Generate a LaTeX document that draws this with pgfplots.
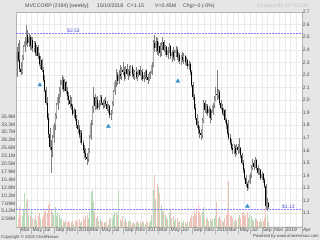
\documentclass[border=0pt]{standalone}
\usepackage{pgfplots}
\pgfplotsset{compat=1.18}
\usepackage{pgfplotstable}
\usepackage{fontspec}
\setmainfont{Liberation Sans}
\definecolor{bgc}{HTML}{E6E6E6}
\definecolor{gridc}{HTML}{EBEBEB}
\definecolor{framec}{HTML}{B4B4B4}
\definecolor{volup}{HTML}{B5DAB5}
\definecolor{voldn}{HTML}{F0C2BA}
\definecolor{upc}{HTML}{A8A8A8}
\definecolor{wickc}{HTML}{808080}
\definecolor{refc}{HTML}{8080FF}
\definecolor{reft}{HTML}{4848D0}
\definecolor{bellc}{HTML}{3A90CC}
\definecolor{txtc}{HTML}{4A4A4A}
\definecolor{lightc}{HTML}{C4C4C4}
\newcommand\fs{\fontsize{5bp}{6bp}\selectfont}
\newcommand\ft{\fontsize{5.2bp}{6bp}\selectfont}
\newcommand\ff{\fontsize{4.3bp}{5bp}\selectfont}
\pgfplotstableread{
o h l c v
2.30 2.42 2.18 2.38 5.5
2.38 2.45 2.30 2.32 3.0
2.32 2.48 2.22 2.25 6.5
2.25 2.30 2.20 2.22 4.0
2.22 2.36 2.21 2.34 3.5
2.34 2.44 2.32 2.42 6.0
2.42 2.50 2.38 2.47 11.0
2.47 2.60 2.44 2.52 8.5
2.52 2.56 2.42 2.45 9.0
2.45 2.53 2.42 2.50 4.0
2.50 2.52 2.40 2.43 3.5
2.43 2.50 2.40 2.48 5.5
2.48 2.50 2.38 2.41 3.0
2.41 2.47 2.38 2.45 2.5
2.45 2.47 2.35 2.37 4.0
2.37 2.44 2.35 2.42 2.0
2.42 2.44 2.33 2.35 3.5
2.35 2.37 2.27 2.29 4.5
2.29 2.35 2.25 2.32 2.5
2.32 2.33 2.22 2.24 3.0
2.24 2.26 2.14 2.16 4.0
2.16 2.20 2.06 2.08 5.0
2.08 2.10 1.96 1.98 6.0
1.98 2.02 1.84 1.86 4.5
1.86 1.90 1.70 1.73 7.0
1.73 1.78 1.60 1.63 8.0
1.63 1.68 1.42 1.60 6.0
1.60 1.72 1.55 1.70 5.0
1.70 1.82 1.66 1.80 4.0
1.80 1.90 1.76 1.88 6.5
1.88 1.98 1.85 1.96 3.5
1.96 2.05 1.92 2.02 5.0
2.02 2.10 1.98 2.08 4.0
2.08 2.16 2.02 2.12 2.5
2.12 2.20 2.08 2.16 3.0
2.16 2.18 2.06 2.09 2.0
2.09 2.17 2.07 2.14 1.5
2.14 2.15 2.05 2.07 2.0
2.07 2.10 2.00 2.03 1.5
2.03 2.06 1.96 2.00 1.8
2.00 2.04 1.94 1.97 1.2
1.97 2.02 1.92 1.95 1.5
1.95 1.97 1.87 1.89 2.0
1.89 1.94 1.86 1.92 1.0
1.92 1.93 1.83 1.85 1.8
1.85 1.88 1.78 1.80 2.2
1.80 1.84 1.74 1.77 1.5
1.77 1.80 1.70 1.72 2.5
1.72 1.76 1.66 1.74 1.2
1.74 1.76 1.64 1.66 2.0
1.66 1.68 1.58 1.60 3.0
1.60 1.64 1.54 1.58 2.5
1.58 1.62 1.52 1.55 3.5
1.55 1.58 1.48 1.53 4.0
1.53 1.62 1.51 1.60 3.0
1.60 1.72 1.58 1.70 5.0
1.70 1.84 1.68 1.82 11.5
1.82 1.95 1.80 1.93 12.0
1.93 2.10 1.90 2.02 8.0
2.02 2.05 1.92 1.95 5.0
1.95 2.02 1.93 2.00 3.0
2.00 2.03 1.92 1.94 3.5
1.94 2.00 1.92 1.98 2.0
1.98 2.04 1.95 2.02 2.5
2.02 2.04 1.96 1.98 2.0
1.98 2.00 1.93 1.96 1.5
1.96 2.01 1.94 1.99 1.5
1.99 2.02 1.95 1.97 1.2
1.97 1.99 1.91 1.93 1.8
1.93 1.97 1.90 1.95 1.0
1.95 1.96 1.86 1.88 2.5
1.88 1.92 1.84 1.90 3.0
1.90 1.99 1.89 1.97 2.5
1.97 2.08 1.95 2.06 4.0
2.06 2.16 2.04 2.14 5.0
2.14 2.25 2.10 2.20 5.0
2.20 2.22 2.12 2.15 4.0
2.15 2.24 2.13 2.21 12.0
2.21 2.28 2.17 2.19 2.5
2.19 2.26 2.16 2.24 2.0
2.24 2.30 2.20 2.22 3.5
2.22 2.26 2.15 2.18 2.0
2.18 2.27 2.17 2.25 2.5
2.25 2.29 2.19 2.21 1.5
2.21 2.25 2.16 2.23 1.8
2.23 2.27 2.18 2.20 1.5
2.20 2.28 2.19 2.26 2.0
2.26 2.28 2.18 2.21 1.2
2.21 2.25 2.17 2.19 1.5
2.19 2.24 2.16 2.22 1.0
2.22 2.26 2.17 2.18 1.5
2.18 2.23 2.15 2.21 2.0
2.21 2.25 2.18 2.24 1.2
2.24 2.27 2.19 2.20 1.5
2.20 2.24 2.16 2.22 1.0
2.22 2.25 2.15 2.17 2.0
2.17 2.22 2.14 2.20 1.5
2.20 2.24 2.17 2.23 1.0
2.23 2.25 2.16 2.18 1.8
2.18 2.21 2.13 2.16 1.5
2.16 2.22 2.15 2.20 1.2
2.20 2.23 2.17 2.21 2.0
2.21 2.30 2.20 2.28 4.0
2.28 2.48 2.26 2.45 12.0
2.45 2.52 2.38 2.41 17.0
2.41 2.50 2.38 2.47 9.0
2.47 2.49 2.36 2.39 14.0
2.39 2.46 2.35 2.43 13.0
2.43 2.45 2.34 2.37 11.0
2.37 2.46 2.35 2.44 7.0
2.44 2.50 2.40 2.46 6.0
2.46 2.48 2.38 2.40 5.0
2.40 2.44 2.36 2.42 4.0
2.42 2.43 2.34 2.36 3.0
2.36 2.42 2.33 2.40 2.5
2.40 2.45 2.37 2.43 4.5
2.43 2.44 2.33 2.35 5.5
2.35 2.40 2.30 2.38 3.0
2.38 2.42 2.32 2.34 3.5
2.34 2.40 2.31 2.37 2.0
2.37 2.43 2.34 2.40 2.5
2.40 2.42 2.32 2.34 3.0
2.34 2.38 2.30 2.36 1.5
2.36 2.37 2.29 2.31 2.0
2.31 2.36 2.28 2.34 1.5
2.34 2.38 2.30 2.32 1.2
2.32 2.37 2.29 2.35 2.0
2.35 2.36 2.28 2.30 1.5
2.30 2.34 2.27 2.32 1.0
2.32 2.33 2.25 2.27 2.0
2.27 2.31 2.24 2.29 1.5
2.29 2.30 2.20 2.22 3.0
2.22 2.24 2.10 2.12 4.0
2.12 2.14 2.00 2.02 3.5
2.02 2.05 1.92 1.94 5.0
1.94 1.97 1.84 1.86 4.0
1.86 1.89 1.78 1.80 6.0
1.80 1.83 1.73 1.76 7.0
1.76 1.79 1.70 1.74 5.0
1.74 1.77 1.68 1.72 4.0
1.72 1.86 1.70 1.84 5.0
1.84 2.00 1.82 1.98 6.5
1.98 2.00 1.90 1.92 3.0
1.92 1.97 1.89 1.95 2.5
1.95 1.97 1.87 1.90 3.0
1.90 1.95 1.86 1.93 2.0
1.93 1.94 1.82 1.86 3.0
1.86 1.92 1.84 1.90 2.0
1.90 1.98 1.88 1.96 2.5
1.96 2.03 1.94 2.01 3.0
2.01 2.10 1.99 2.05 4.0
2.05 2.24 2.00 2.04 8.0
2.04 2.09 2.01 2.06 3.0
2.06 2.08 1.96 1.98 3.5
1.98 2.00 1.92 1.94 2.5
1.94 1.97 1.88 1.90 2.0
1.90 1.94 1.87 1.92 1.5
1.92 1.93 1.82 1.84 3.0
1.84 1.86 1.77 1.80 4.0
1.80 1.82 1.72 1.74 5.0
1.74 1.84 1.68 1.70 15.0
1.70 1.73 1.64 1.66 4.0
1.66 1.69 1.60 1.62 3.5
1.62 1.65 1.57 1.60 3.0
1.60 1.65 1.57 1.62 2.0
1.62 1.64 1.55 1.58 2.5
1.58 1.65 1.56 1.63 2.0
1.63 1.65 1.57 1.60 3.0
1.60 1.70 1.58 1.62 4.0
1.62 1.63 1.54 1.56 3.0
1.56 1.58 1.48 1.50 4.5
1.50 1.52 1.42 1.44 5.0
1.44 1.46 1.36 1.38 3.5
1.38 1.40 1.31 1.33 4.0
1.33 1.35 1.28 1.30 5.0
1.30 1.36 1.29 1.34 3.0
1.34 1.42 1.33 1.40 4.0
1.40 1.48 1.38 1.46 3.5
1.46 1.53 1.44 1.50 2.5
1.50 1.52 1.44 1.47 2.0
1.47 1.55 1.46 1.52 3.0
1.52 1.53 1.44 1.46 2.5
1.46 1.48 1.40 1.42 2.0
1.42 1.46 1.40 1.44 1.5
1.44 1.45 1.36 1.38 2.5
1.38 1.43 1.36 1.41 1.5
1.41 1.42 1.34 1.36 2.0
1.36 1.38 1.30 1.32 3.0
1.32 1.33 1.13 1.16 13.0
1.16 1.22 1.12 1.18 4.0
1.18 1.19 1.13 1.15 1.5
}\price
\begin{document}
\begin{tikzpicture}[x=1bp,y=1bp]
\fill[bgc] (0,0) rectangle (320,240);
\useasboundingbox (0,0) rectangle (320,240);
\pgfplotsset{base/.style={at={(16bp,13bp)}, anchor=south west, scale only axis,
  width=286bp, height=215bp, xmin=1.31, xmax=51},
  candle/.style={only marks, mark=*, mark size=0pt, mark options={draw=none, fill=none},
  error bars/.cd, y dir=both, y explicit, error mark=none}}
% grid layer
\begin{axis}[base, ymin=0.99, ymax=2.70,
  axis background/.style={fill=white},
  xtick={1,...,51}, ytick={1.0,1.1,1.2,1.3,1.4,1.5,1.6,1.7,1.8,1.9,2.0,2.1,2.2,2.3,2.4,2.5,2.6,2.7},
  xticklabels={}, yticklabels={}, grid=major,
  major grid style={gridc, line width=0.4bp},
  tick style={draw=none}, axis line style={framec, line width=0.4bp}]
\end{axis}
% volume layer
\begin{axis}[base, ymin=0, ymax=69.8,
  axis line style={draw=none}, tick style={draw=none}, xtick=\empty,
  ytick={2.5636,5.1272,7.6908,10.2544,12.818,15.3816,17.9452,20.5088,23.0724,25.636,28.1996,30.7632,33.3268,35.8904},
  yticklabels={2.56M,5.12M,7.69M,10.2M,12.8M,15.4M,17.9M,20.5M,23.1M,25.6M,28.2M,30.7M,33.3M,35.9M},
  yticklabel style={font=\fs, text=txtc, inner sep=0.6bp}]
\addplot[ycomb, volup, line width=0.9bp] table[x expr=1.45+0.2301*\coordindex,
  y expr={ifthenelse(\thisrow{c}>=\thisrow{o},\thisrow{v},0)}] {\price};
\addplot[ycomb, voldn, line width=0.9bp] table[x expr=1.45+0.2301*\coordindex,
  y expr={ifthenelse(\thisrow{c}<\thisrow{o},\thisrow{v},0)}] {\price};
\end{axis}
% price layer
\begin{axis}[base, ymin=0.99, ymax=2.70, clip=false,
  axis line style={draw=none}, tick style={draw=none},
  ytick={1.1,1.2,1.3,1.4,1.5,1.6,1.7,1.8,1.9,2.0,2.1,2.2,2.3,2.4,2.5,2.6,2.7},
  yticklabels={1.1,1.2,1.3,1.4,1.5,1.6,1.7,1.8,1.9,2.0,2.1,2.2,2.3,2.4,2.5,2.6,2.7},
  yticklabel pos=right,
  yticklabel style={font=\fs, text=txtc, anchor=west, inner sep=0.6bp},
  xtick={2,4,6,8,10,12,14,16,18,20,22,24,26,28,30,32,34,36,38,40,42,44,46,48,51},
  xticklabels={Mar,May,Jul,Sep,Nov,2016,Mar,May,Jul,Sep,Nov,2017,Mar,May,Jul,Sep,Nov,2018,Mar,May,Jul,Sep,Nov,2019,Apr},
  xticklabel style={font=\fs, text=txtc, anchor=north west, inner sep=0.9bp}]
\pgfplotsinvokeforeach{2,4,6,8,10,12,14,16,18,20,22,24,26,28,30,32,34,36,38,40,42,44,46,48,51}{
  \draw[framec, line width=0.4bp] (axis cs:#1,0.99) -- ++(0bp,-7bp);}
\addplot[refc, densely dotted, line width=0.5bp] coordinates {(1.31,2.53) (51,2.53)};
\addplot[refc, densely dotted, line width=0.5bp] coordinates {(1.31,1.13) (51,1.13)};
\node[font=\fs, text=reft, anchor=south, inner sep=0.8bp] at (axis cs:11.3,2.53) {\$2.53};
\node[font=\fs, text=reft, anchor=south east, inner sep=0.8bp] at (axis cs:49.9,1.13) {\$1.13};
\addplot[candle, error bar style={wickc, line width=0.45bp}]
  table[x expr=1.45+0.2301*\coordindex, y expr={(\thisrow{h}+\thisrow{l})/2},
  y error expr={(\thisrow{h}-\thisrow{l})/2}] {\price};
\addplot[candle, error bar style={upc, line width=1bp}]
  table[x expr=1.45+0.2301*\coordindex, y expr={(\thisrow{o}+\thisrow{c})/2},
  y error expr={ifthenelse(\thisrow{c}>=\thisrow{o},(\thisrow{c}-\thisrow{o})/2,0)}] {\price};
\addplot[candle, error bar style={black, line width=1bp}]
  table[x expr=1.45+0.2301*\coordindex, y expr={(\thisrow{o}+\thisrow{c})/2},
  y error expr={ifthenelse(\thisrow{c}<\thisrow{o},(\thisrow{o}-\thisrow{c})/2,0)}] {\price};
\addplot[only marks, mark=triangle*, mark size=2.2bp, bellc]
  coordinates {(5.45,2.12) (17.36,1.79) (29.43,2.15) (41.51,1.155)};
\end{axis}
\node[anchor=west, font=\ft, text=txtc, inner sep=0pt] at (25,234) {MVCCORP (2194) [weekly]};
\node[anchor=west, font=\ft, text=txtc, inner sep=0pt] at (97,234) {15/10/2018};
\node[anchor=west, font=\ft, text=txtc, inner sep=0pt] at (127,234) {C=1.15};
\node[anchor=west, font=\ft, text=txtc, inner sep=0pt] at (155,234) {V=0.45M};
\node[anchor=west, font=\ft, text=txtc, inner sep=0pt] at (183,234) {Chg=-0 (-0\%)};
\node[anchor=west, font=\ft, text=lightc, inner sep=0pt] at (257,234) {Charted By CPTEH38};
\node[anchor=west, font=\ff, text=txtc, inner sep=0pt] at (1,3) {Copyright © 2018 ChartNexus};
\node[anchor=east, font=\ff, text=txtc, inner sep=0pt] at (319,3.5) {Powered by www.sharenexus.com};
\end{tikzpicture}
\end{document}
